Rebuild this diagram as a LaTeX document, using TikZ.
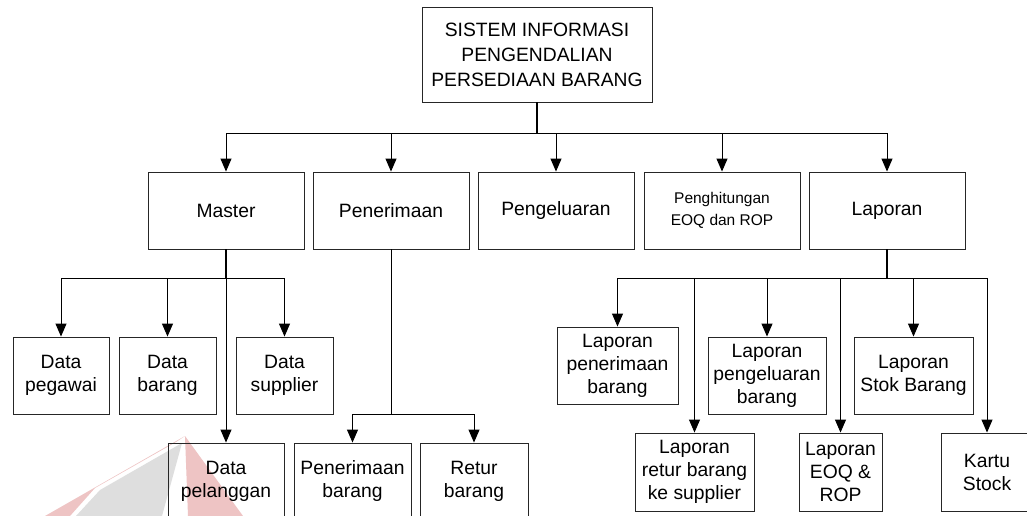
\documentclass[tikz,border=0pt]{standalone}
\usepackage{fontspec}
\setmainfont{Liberation Sans}
\usetikzlibrary{arrows.meta}

\definecolor{markpink}{RGB}{238,196,196}
\definecolor{markgrey}{RGB}{222,222,222}

\tikzset{
  box/.style={draw=black!85, line width=0.9pt, rectangle, inner sep=0pt,
              align=center, font=\fontsize{19.3}{23}\selectfont},
  small/.style={font=\fontsize{15.5}{21.5}\selectfont},
  link/.style={draw=black, line width=1pt},
  trunk/.style={draw=black, line width=1.6pt},
  arr/.style={link, -{Triangle[length=13pt,width=11pt]}},
  markred/.style={fill=markpink, draw=none},
  markgray/.style={fill=markgrey, draw=none}
}

\begin{document}
\begin{tikzpicture}[x=1pt, y=-1pt]
\clip (0,0) rectangle (1027,516);
\fill[white] (0,0) rectangle (1027,516);

% faint logo shapes in the lower left corner
\fill[markred] (185,436) -- (45,516) -- (70,516) -- (95,488) -- (176,442) -- cycle;
\fill[markgray] (182,443) -- (100,490) -- (76,516) -- (162,516) -- cycle;
\fill[markred] (185,436) -- (188,516) -- (243,516) -- cycle;

% root
\node[box, minimum width=230pt, minimum height=95pt, font=\fontsize{19.3}{25}\selectfont]
  (root) at (537,54.5) {SISTEM INFORMASI\\PENGENDALIAN\\PERSEDIAAN BARANG};

% first level
\node[box, minimum width=156pt, minimum height=77pt] (master) at (226,210.5) {Master};
\node[box, minimum width=156pt, minimum height=77pt] (terima) at (391,210.5) {Penerimaan};
\node[box, minimum width=156pt, minimum height=77pt] (keluar) at (556,210.5) {Pengeluaran};
\node[box, small, minimum width=156pt, minimum height=77pt] (hitung) at (722,210.5) {Penghitungan\\EOQ dan ROP};
\node[box, minimum width=156pt, minimum height=77pt] (lapor) at (887,210.5) {Laporan};

% master data
\node[box, minimum width=96pt, minimum height=77pt] (pegawai) at (61,375.5) {Data\\pegawai};
\node[box, minimum width=97pt, minimum height=77pt] (barang) at (167.5,375.5) {Data\\barang};
\node[box, minimum width=97pt, minimum height=77pt] (supplier) at (284.5,375.5) {Data\\supplier};
\node[box, minimum width=116pt, minimum height=77pt] (pelanggan) at (226,481.5) {Data\\pelanggan};

% receiving
\node[box, minimum width=117pt, minimum height=77pt] (terimabrg) at (352.5,481.5) {Penerimaan\\barang};
\node[box, minimum width=108pt, minimum height=77pt] (retur) at (474,481.5) {Retur\\barang};

% reports
\node[box, minimum width=121pt, minimum height=77pt] (lterima) at (617.5,365.5) {Laporan\\penerimaan\\barang};
\node[box, minimum width=118pt, minimum height=77pt] (lkeluar) at (767,375.5) {Laporan\\pengeluaran\\barang};
\node[box, minimum width=119pt, minimum height=77pt] (lstok) at (913.5,375.5) {Laporan\\Stok Barang};
\node[box, minimum width=119pt, minimum height=78pt] (lretur) at (694.5,472) {Laporan\\retur barang\\ke supplier};
\node[box, minimum width=83pt, minimum height=78pt] (leoq) at (840.5,472) {Laporan\\EOQ \&\\ROP};
\node[box, minimum width=92pt, minimum height=78pt] (kartu) at (987,472) {Kartu\\Stock};

% junctions
\coordinate (j0) at (537,133);
\coordinate (jm) at (226,278);
\coordinate (jt) at (391,414);
\coordinate (jl) at (887,278);

% root to first level
\draw[trunk] (root.south) -- (j0);
\foreach \n in {master,terima,keluar,hitung,lapor}
  \draw[arr] (j0) -| (\n.north);

% master to its data
\draw[trunk] (master.south) -- (jm);
\foreach \n in {pegawai,barang,supplier}
  \draw[arr] (jm) -| (\n.north);
\draw[arr] (jm) -- (pelanggan.north);

% receiving to its items
\draw[link] (terima.south) -- (jt);
\foreach \n in {terimabrg,retur}
  \draw[arr] (jt) -| (\n.north);

% reports
\draw[trunk] (lapor.south) -- (jl);
\foreach \n in {lterima,lretur,lkeluar,leoq,lstok,kartu}
  \draw[arr] (jl) -| (\n.north);
\end{tikzpicture}
\end{document}
